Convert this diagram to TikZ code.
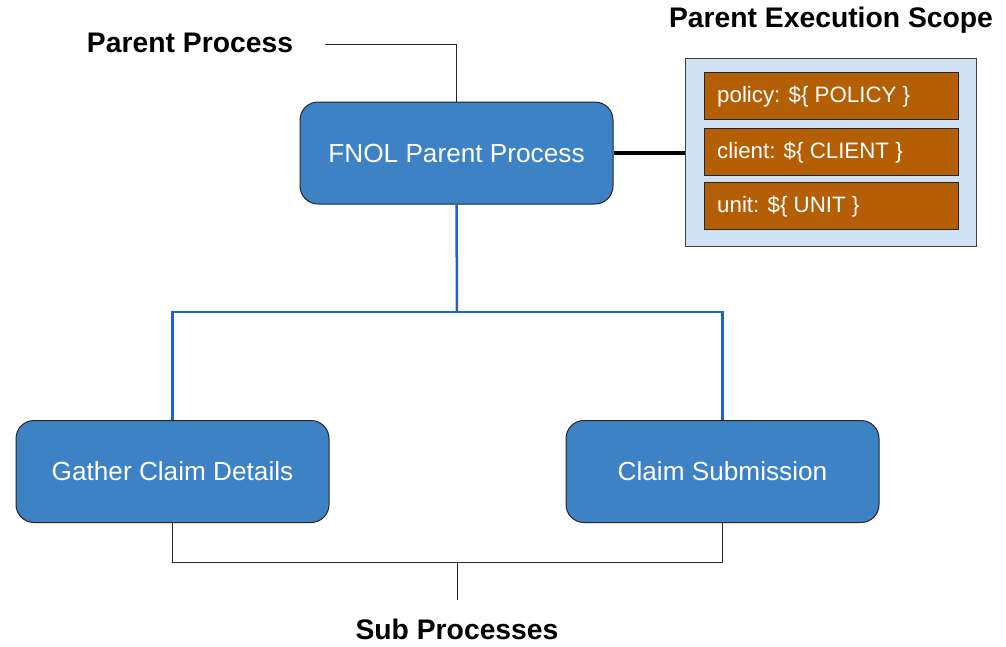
\documentclass[tikz,border=0pt]{standalone}
\usepackage{fontspec}
\setmainfont{Liberation Sans}
\begin{document}
\begin{tikzpicture}[x=1pt,y=-1pt,
  proc/.style={draw=black!85, line width=1pt, fill=procblue, rounded corners=18pt,
    minimum width=313pt, minimum height=102pt, inner sep=0pt, text=white,
    font=\fontsize{26.2}{29}\selectfont},
  var/.style={draw=black!85, line width=1pt, fill=varorange, minimum width=254pt,
    minimum height=47pt, inner sep=0pt},
  vartext/.style={anchor=west, text=white, inner sep=0pt, font=\fontsize{22.3}{25}\selectfont},
  title/.style={inner sep=0pt, font=\fontsize{28.3}{31}\selectfont\bfseries},
  thin/.style={draw=black!85, line width=1pt},
  bluelink/.style={draw=linkblue, line width=2.5pt}]
\definecolor{procblue}{HTML}{3D82C4}
\definecolor{varorange}{HTML}{B45F06}
\definecolor{scopeblue}{HTML}{CFE2F3}
\definecolor{linkblue}{HTML}{1F5FD9}
\useasboundingbox (0,0) rectangle (1006,646);

% titles
\node[title] (ptitle) at (190,43) {Parent Process};
\node[title] (stitle) at (831,20) {Parent Execution Scope};
\node[title] (subtitle) at (457,629) {Sub Processes};

% process boxes
\node[proc] (fnol) at (456.5,153) {FNOL Parent Process};
\node[proc] (gather) at (172.5,471.5) {Gather Claim Details};
\node[proc] (claim) at (722.5,471.5) {Claim Submission};

% scope box
\node[draw=black!75, line width=1pt, fill=scopeblue, minimum width=291pt, minimum height=188pt, inner sep=0pt] (scope) at (830.5,152) {};
\node[var] (v1) at (831,96) {};
\node[var] (v2) at (831,151.5) {};
\node[var] (v3) at (831,205.5) {};
\node[vartext] (t1) at (717,97) {policy: \$\{ POLICY \}};
\node[vartext] (t2) at (717,152.5) {client: \$\{ CLIENT \}};
\node[vartext] (t3) at (717,206.5) {unit: \$\{ UNIT \}};

% connectors
\coordinate (pp) at (325,44);
\draw[thin] (pp) -| (fnol.north);
\draw[line width=4pt] (fnol.east) -- (fnol.east -| scope.west);

\coordinate (bj) at (457,312);
\draw[bluelink] (fnol.south) -- (bj);
\draw[bluelink] (bj) -| (gather.north);
\draw[bluelink] (bj) -| (claim.north);

\coordinate (sj) at (457,562);
\coordinate (se) at (457,600);
\draw[thin] (gather.south) |- (sj) -| (claim.south);
\draw[thin] (sj) -- (se);
\end{tikzpicture}
\end{document}
